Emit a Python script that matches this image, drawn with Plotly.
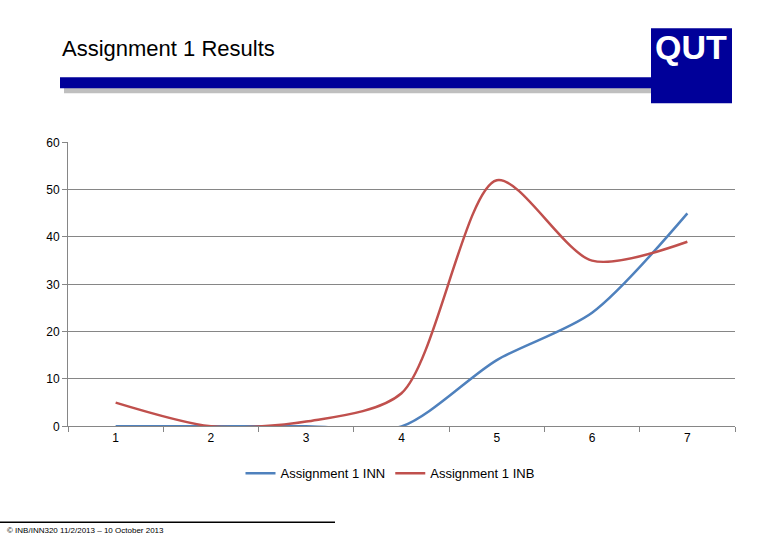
import plotly.graph_objects as go

categories = ["1", "2", "3", "4", "5", "6", "7"]
inn = [0, 0, 0, 0, 14, 24, 45]
inb = [5, 0, 1, 7, 52, 35, 39]
y_ticks = [0, 10, 20, 30, 40, 50, 60]


def py(Y):
    return 1 - ((Y - 6.7) / 0.974) / 540


fig = go.Figure()
fig.add_trace(go.Scatter(x=categories, y=inn, mode="lines", name="Assignment 1 INN",
                         line=dict(color="#4F81BD", width=2.5, shape="spline", smoothing=0.8)))
fig.add_trace(go.Scatter(x=categories, y=inb, mode="lines", name="Assignment 1 INB",
                         line=dict(color="#C0504D", width=2.5, shape="spline", smoothing=0.8)))

fig.update_layout(
    width=780, height=540, plot_bgcolor="white", paper_bgcolor="white",
    margin=dict(l=0, r=0, t=0, b=0),
    font=dict(family="Liberation Sans", size=12, color="black"),
    xaxis=dict(domain=[68/780, 735/780], type="category", range=[-0.5, 6.5],
               showline=True, linecolor="#868686", ticks="outside", tickcolor="#868686",
               tickson="boundaries", ticklen=5, showgrid=False),
    yaxis=dict(domain=[py(426), py(142)], range=[0, 60], tickvals=y_ticks,
               showline=True, linecolor="#868686", gridcolor="#868686", ticks="outside",
               tickcolor="#868686", ticklen=5, zeroline=False),
    legend=dict(orientation="h", x=0.5, xanchor="center", y=py(473), yanchor="middle",
                font=dict(size=13)),
    shapes=[
        dict(type="rect", xref="paper", yref="paper", x0=64/780, x1=655/780,
             y0=py(93), y1=py(83), fillcolor="#BFBFBF", line_width=0),
        dict(type="rect", xref="paper", yref="paper", x0=60/780, x1=655/780,
             y0=py(88), y1=py(77), fillcolor="#000099", line_width=0),
        dict(type="rect", xref="paper", yref="paper", x0=651/780, x1=732/780,
             y0=py(103), y1=py(28), fillcolor="#000099", line_width=0),
        dict(type="line", xref="paper", yref="paper", x0=0, x1=335/780,
             y0=py(522), y1=py(522), line=dict(color="black", width=1.5)),
    ],
    annotations=[
        dict(text="Assignment 1 Results", xref="paper", yref="paper", x=60/780, y=py(48),
             xanchor="left", yanchor="middle", showarrow=False, font=dict(size=22)),
        dict(text="<b>QUT</b>", xref="paper", yref="paper", x=691/780, y=py(47),
             xanchor="center", yanchor="middle", showarrow=False,
             font=dict(size=34, color="white", family="Liberation Sans")),
        dict(text="© INB/INN320 11/2/2013 – 10 October 2013", xref="paper", yref="paper",
             x=5/780, y=py(530), xanchor="left", yanchor="middle", showarrow=False,
             font=dict(size=8)),
    ],
)
fig.write_html("out.html", config={"displayModeBar": False},
               post_script="document.body.style.margin='0';document.body.style.overflow='hidden';")
